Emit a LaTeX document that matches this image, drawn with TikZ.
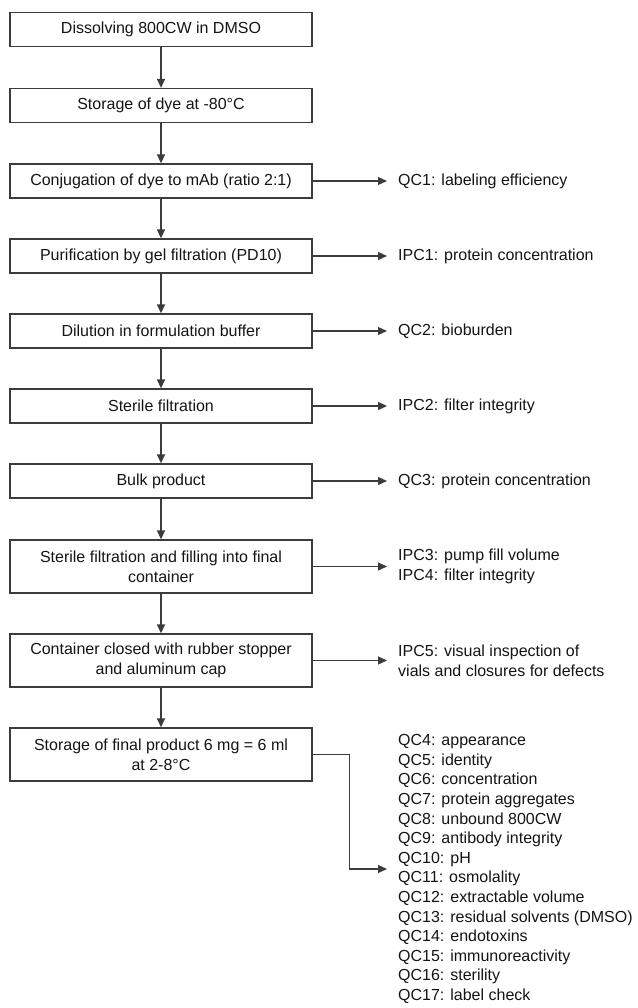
\documentclass[tikz,border=0pt]{standalone}
\usepackage{fontspec}
\setmainfont{Liberation Sans}
\usepackage{tikz}
\usetikzlibrary{arrows.meta}
\definecolor{flowgray}{RGB}{60,60,60}
\definecolor{textgray}{RGB}{20,20,20}

\begin{document}
\begin{tikzpicture}[x=1pt, y=-1pt,
        stepbox/.style={draw=flowgray, line width=1.3pt, minimum width=302pt, minimum height=34pt,
          inner sep=0pt, align=center, text=textgray, font=\fontsize{16}{20}\selectfont},
        tallbox/.style={stepbox, minimum height=53pt},
        checklabel/.style={anchor=west, inner sep=0pt, align=left, text=textgray,
          font=\fontsize{16}{20}\selectfont},
        flow/.style={-{Triangle[length=9pt, width=8pt]}, line width=1.3pt, draw=flowgray}
      ]
      \useasboundingbox (0,0) rectangle (637,1008);
      \node[stepbox] (dissolve) at (161,29.5) {Dissolving 800CW in DMSO};
      \node[stepbox] (storedye) at (161,105.5) {Storage of dye at -80°C};
      \node[stepbox] (conjugate) at (161,181) {Conjugation of dye to mAb (ratio 2:1)};
      \node[stepbox] (purify) at (161,256) {Purification by gel filtration (PD10)};
      \node[stepbox] (dilute) at (161,331) {Dilution in formulation buffer};
      \node[stepbox] (sterile) at (161,406) {Sterile filtration};
      \node[stepbox] (bulk) at (161,481) {Bulk product};
      \node[tallbox] (fill) at (161,566.5) {Sterile filtration and filling into final\\container};
      \node[tallbox] (close) at (161,660.5) {Container closed with rubber stopper\\and aluminum cap};
      \node[tallbox] (final) at (161,754.5) {Storage of final product 6 mg = 6 ml\\at 2-8°C};

      \node[checklabel] (qc1) at (398,181) {QC1: labeling efficiency};
      \node[checklabel] (ipc1) at (398,256) {IPC1: protein concentration};
      \node[checklabel] (qc2) at (398,331) {QC2: bioburden};
      \node[checklabel] (ipc2) at (398,406) {IPC2: filter integrity};
      \node[checklabel] (qc3) at (398,481) {QC3: protein concentration};
      \node[checklabel] (ipc34) at (398,566.5) {IPC3: pump fill volume\\IPC4: filter integrity};
      \node[checklabel] (ipc5) at (398,660.5) {IPC5: visual inspection of\\vials and closures for defects};
      \node[checklabel, font=\fontsize{16}{19.6}\selectfont] (qclist) at (398,869) {QC4: appearance\\QC5: identity\\QC6: concentration\\
        QC7: protein aggregates\\QC8: unbound 800CW\\QC9: antibody integrity\\QC10: pH\\
        QC11: osmolality\\QC12: extractable volume\\QC13: residual solvents (DMSO)\\
        QC14: endotoxins\\QC15: immunoreactivity\\QC16: sterility\\QC17: label check};

      \foreach \from/\to in {dissolve/storedye, storedye/conjugate, conjugate/purify, purify/dilute,
          dilute/sterile, sterile/bulk, bulk/fill, fill/close, close/final}
        \draw[flow] (\from) -- (\to);
      \foreach \from/\to in {conjugate/qc1, purify/ipc1, dilute/qc2, sterile/ipc2, bulk/qc3,
          fill/ipc34, close/ipc5}
        \draw[flow, shorten >=11pt] (\from.east) -- (\to.west |- \from.east);
      \draw[flow, shorten >=11pt] (final.east) -- ++(37,0) |- (qclist.west);
    \end{tikzpicture}
\end{document}
